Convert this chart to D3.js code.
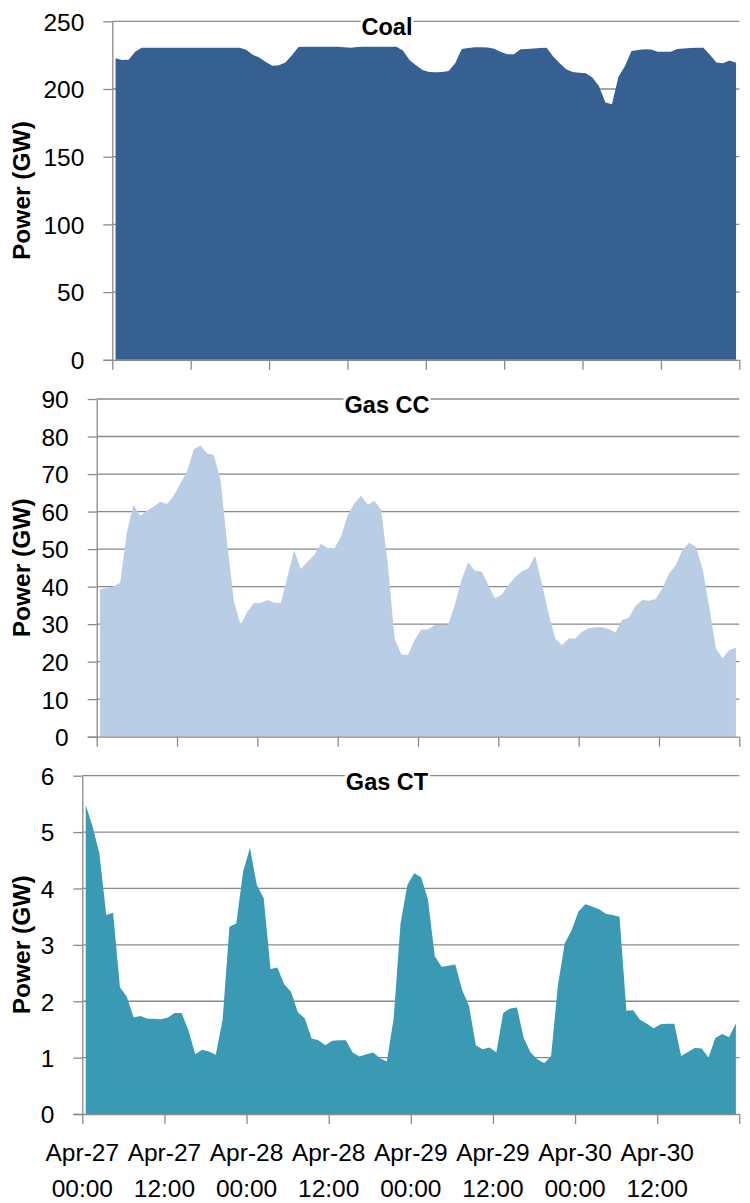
<!DOCTYPE html>
<html>
<head>
<meta charset="utf-8">
<script src="https://cdn.jsdelivr.net/npm/d3@7"></script>
<style>
  html, body { margin: 0; padding: 0; background: #fff; }
  svg text { font-family: "Liberation Sans", Arial, sans-serif; fill: #000; }
</style>
</head>
<body>
<svg id="chart" width="750" height="1203"></svg>
<script>
// ---- Data (hourly, Apr-27 00:00 .. Apr-30 23:00) ----
const xTickLabels = ["Apr-27|00:00","Apr-27|12:00","Apr-28|00:00","Apr-28|12:00",
                     "Apr-29|00:00","Apr-29|12:00","Apr-30|00:00","Apr-30|12:00"];

const coal = [222.7,221.5,221.6,227.5,230.5,230.5,230.5,230.5,230.5,230.5,
              230.5,230.5,230.5,230.5,230.5,230.5,230.5,230.5,230.5,230.5,
              229.0,225.3,223.2,220.0,217.2,217.5,219.5,225.0,231.0,231.2,
              231.2,231.2,231.2,231.2,231.2,230.8,230.5,231.0,231.2,231.2,
              231.2,231.2,231.2,231.2,228.5,221.5,217.5,214.0,212.5,212.3,
              212.5,213.3,219.0,229.5,230.3,230.8,230.8,230.6,229.8,227.3,
              225.6,225.6,229.3,229.5,230.0,230.3,230.5,224.0,219.0,214.5,
              212.6,212.0,211.6,208.5,202.2,190.0,188.7,209.1,217.0,228.0,
              228.8,229.3,229.2,227.6,227.5,227.5,229.5,230.0,230.3,230.4,
              230.5,225.3,219.5,219.0,221.0,219.4];

const gasCC = [39.3,39.7,40.0,41.0,54.4,61.8,58.9,60.2,61.3,62.6,
               62.0,64.2,67.5,70.6,76.6,77.6,75.5,75.1,68.4,51.5,
               36.0,29.8,33.3,35.6,35.6,36.4,35.7,35.6,42.6,49.6,
               44.7,46.6,48.4,51.4,50.2,50.2,53.3,59.1,62.2,64.2,
               61.8,62.8,60.4,45.8,26.2,22.0,21.8,25.8,28.6,28.6,
               29.8,29.8,29.8,35.1,41.8,46.5,44.2,44.0,40.4,36.9,
               37.8,40.4,42.5,44.0,44.9,48.2,40.9,32.9,26.2,24.4,
               26.2,26.2,28.0,28.9,29.2,29.2,28.7,27.8,31.1,31.7,
               34.8,36.4,36.2,36.7,39.5,43.5,45.6,49.8,51.7,50.6,
               44.9,34.6,23.6,20.9,23.1,23.7];

const gasCT = [5.48,5.10,4.62,3.53,3.57,2.25,2.08,1.71,1.74,1.69,
               1.69,1.68,1.71,1.79,1.79,1.49,1.06,1.14,1.11,1.05,
               1.67,3.32,3.38,4.30,4.72,4.06,3.83,2.57,2.60,2.30,
               2.17,1.80,1.70,1.34,1.31,1.22,1.30,1.31,1.31,1.09,
               1.02,1.06,1.09,0.99,0.93,1.70,3.38,4.06,4.27,4.20,
               3.81,2.80,2.61,2.63,2.65,2.20,1.92,1.22,1.15,1.18,
               1.09,1.79,1.87,1.89,1.35,1.09,0.97,0.90,1.03,2.29,
               3.03,3.26,3.59,3.72,3.68,3.63,3.55,3.53,3.50,1.83,
               1.84,1.67,1.60,1.52,1.59,1.60,1.60,1.03,1.10,1.17,
               1.16,1.00,1.35,1.42,1.36,1.61];

const coalTicks  = [0,50,100,150,200,250];
const gasCCTicks = [0,10,20,30,40,50,60,70,80,90];
const gasCTTicks = [0,1,2,3,4,5,6];

const titles = ["Coal","Gas CC","Gas CT"];
const yTitle = "Power (GW)";

// ---- Layout ----
const panels = [
  {title: titles[0], data: coal,  ticks: coalTicks,  color: "#376092", left: 112.3, right: 739.3, top: 21.3,  bottom: 359.8, labels: false},
  {title: titles[1], data: gasCC, ticks: gasCCTicks, color: "#B9CDE5", left: 96.7,  right: 739.3, top: 399.0, bottom: 736.7, labels: false},
  {title: titles[2], data: gasCT, ticks: gasCTTicks, color: "#3A99B3", left: 82.3,  right: 739.3, top: 775.7, bottom: 1114.0, labels: true}
];

const svg = d3.select("#chart");
const gridColor = "#8a8a8a";
const fs = 24.5;

panels.forEach(p => {
  const n = p.data.length;
  const xb = d3.scaleLinear().domain([0, n]).range([p.left, p.right]);
  const y = d3.scaleLinear().domain([0, d3.max(p.ticks)]).range([p.bottom, p.top]);
  const g = svg.append("g");

  // gridlines
  g.selectAll("line.grid").data(p.ticks.filter(t => t !== 0)).join("line")
    .attr("class", "grid")
    .attr("x1", p.left).attr("x2", p.right)
    .attr("y1", d => y(d)).attr("y2", d => y(d))
    .attr("stroke", gridColor).attr("stroke-width", 1.3);

  // area
  const area = d3.area()
    .x((d, i) => xb(i + 0.5))
    .y0(y(0))
    .y1(d => y(d));
  g.append("path").datum(p.data)
    .attr("d", area)
    .attr("fill", p.color);

  // y axis
  const yAxis = d3.axisLeft(y).tickValues(p.ticks).tickFormat(d3.format("d"))
    .tickSize(9).tickPadding(19).tickSizeOuter(0);
  const ya = g.append("g").attr("transform", `translate(${p.left},0)`).call(yAxis);
  ya.select(".domain").attr("stroke", gridColor).attr("stroke-width", 1.3);
  ya.selectAll(".tick line").attr("stroke", gridColor).attr("stroke-width", 1.3);
  ya.selectAll(".tick text")
    .attr("font-size", fs).attr("dy", "0.36em")
    .style("font-family", '"Liberation Sans", Arial, sans-serif');

  // x axis
  const xTickIdx = d3.range(0, n + 1, 12);
  const xAxis = d3.axisBottom(xb).tickValues(xTickIdx).tickSize(10).tickSizeOuter(0).tickFormat("");
  const xa = g.append("g").attr("transform", `translate(0,${p.bottom})`).call(xAxis);
  xa.select(".domain").attr("stroke", gridColor).attr("stroke-width", 1.3)
    .attr("d", `M${p.left - 9},0.5H${p.right}`);
  xa.selectAll(".tick line").attr("stroke", gridColor).attr("stroke-width", 1.3);

  if (p.labels) {
    const lab = g.append("g");
    xTickLabels.forEach((s, k) => {
      const parts = s.split("|");
      const t = lab.append("text")
        .attr("text-anchor", "middle")
        .attr("font-size", fs);
      t.append("tspan").attr("x", xb(xTickIdx[k])).attr("y", 1161).text(parts[0]);
      t.append("tspan").attr("x", xb(xTickIdx[k])).attr("y", 1196.5).text(parts[1]);
    });
  }

  // title with white background
  const tg = g.append("g");
  const bg = tg.append("rect").attr("fill", "#fff");
  const tt = tg.append("text")
    .attr("x", 387).attr("y", p.top + 13.8)
    .attr("text-anchor", "middle")
    .attr("font-size", 23.5).attr("font-weight", "bold")
    .text(p.title);
  const bb = tt.node().getBBox();
  bg.attr("x", bb.x - 1).attr("y", p.top - 2)
    .attr("width", bb.width + 2).attr("height", 4);

  // y title
  g.append("text")
    .attr("transform", `translate(29.5,${(p.top + p.bottom) / 2}) rotate(-90)`)
    .attr("text-anchor", "middle")
    .attr("font-size", 24.5).attr("font-weight", "bold")
    .text(yTitle);
});
</script>
</body>
</html>
